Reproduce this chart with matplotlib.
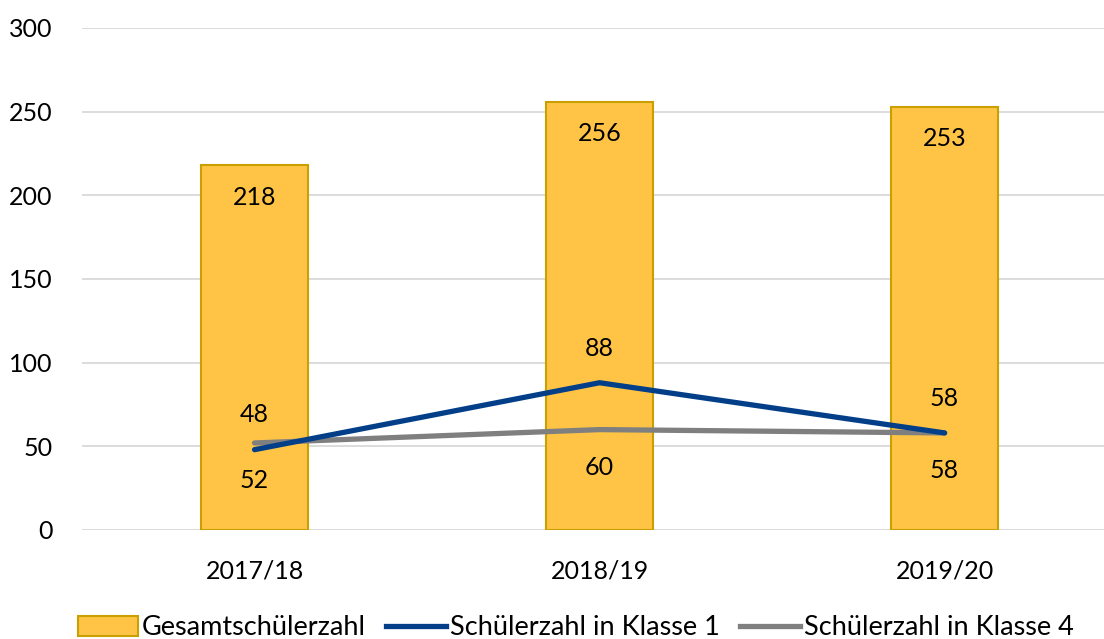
import matplotlib
matplotlib.use("Agg")
from matplotlib import pyplot as plt
from matplotlib.patches import Patch
from matplotlib.lines import Line2D

plt.rcParams['font.family'] = ['Lato', 'DejaVu Sans']

years = ["2017/18", "2018/19", "2019/20"]
gesamt = [218, 256, 253]
klasse1 = [48, 88, 58]
klasse4 = [52, 60, 58]

bar_color = "#FFC445"
bar_edge = "#C9A000"
blue = "#023F88"
gray = "#7F7F7F"

fig = plt.figure(figsize=(11.04, 6.39), dpi=100)
ax = fig.add_axes([0.0743, 0.1706, 0.9257, 0.7856])

x = range(len(years))
ax.bar(x, gesamt, width=0.31, color=bar_color, edgecolor=bar_edge, linewidth=1.5, zorder=2)
ax.plot(x, klasse4, color=gray, linewidth=3.8, solid_capstyle="round", zorder=3)
ax.plot(x, klasse1, color=blue, linewidth=3.8, solid_capstyle="round", zorder=3)

fs = 18
for i, v in enumerate(gesamt):
    ax.annotate(str(v), (i, v), xytext=(0, -23), textcoords="offset points",
                ha="center", va="center", fontsize=fs)
for i, v in enumerate(klasse1):
    ax.annotate(str(v), (i, v), xytext=(0, 25), textcoords="offset points",
                ha="center", va="center", fontsize=fs)
for i, v in enumerate(klasse4):
    ax.annotate(str(v), (i, v), xytext=(0, -27), textcoords="offset points",
                ha="center", va="center", fontsize=fs)

ax.set_ylim(0, 300)
ax.set_xlim(-0.5, 2.462)
ax.set_yticks(range(0, 301, 50))
ax.set_xticks(list(x))
ax.set_xticklabels(years)
ax.tick_params(axis="both", length=0, labelsize=fs)
ax.tick_params(axis="y", pad=21)
ax.tick_params(axis="x", pad=21)
ax.yaxis.grid(True, color="#D9D9D9", linewidth=1.3, zorder=0)
ax.set_axisbelow(True)
for s in ax.spines.values():
    s.set_visible(False)

handles = [
    Patch(facecolor=bar_color, edgecolor=bar_edge, linewidth=1.5),
    Line2D([], [], color=blue, linewidth=3.8),
    Line2D([], [], color=gray, linewidth=3.8),
]
labels = ["Gesamtschülerzahl", "Schülerzahl in Klasse 1", "Schülerzahl in Klasse 4"]
fig.legend(handles, labels, loc="lower left", bbox_to_anchor=(0.049, -0.04), ncol=3,
           frameon=False, fontsize=19.5, handlelength=2.2, handletextpad=0.15,
           columnspacing=0.75, handleheight=0.75)

fig.savefig("out.png", dpi=100)
